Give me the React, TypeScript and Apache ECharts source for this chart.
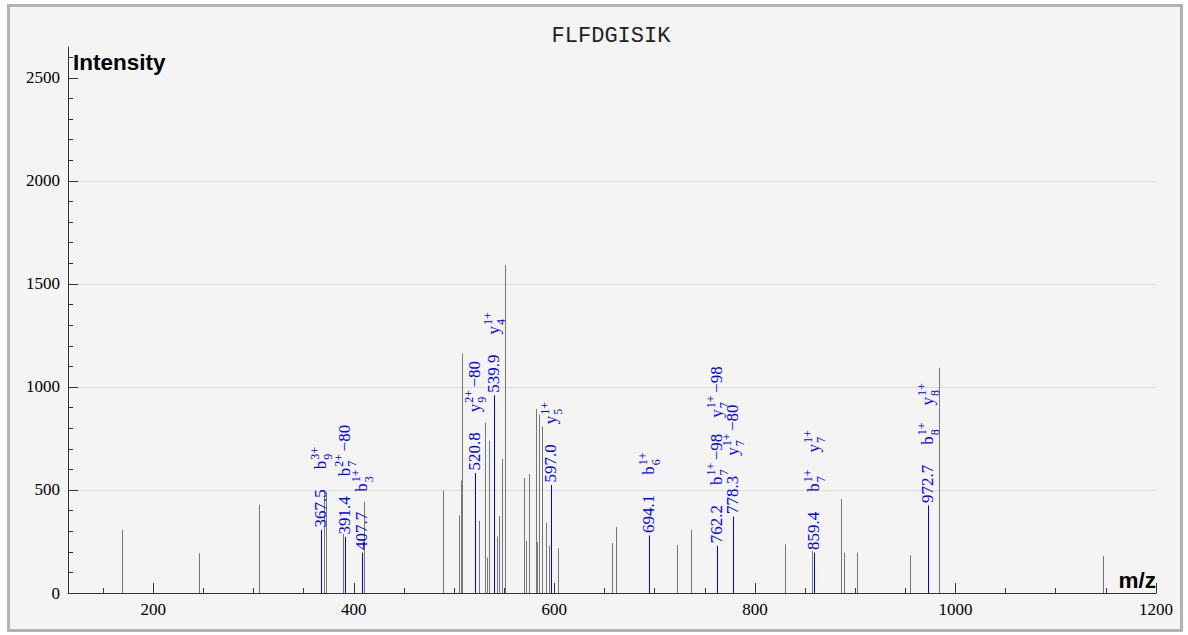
import React, { useEffect, useRef } from 'react';
import * as echarts from 'echarts';

const peptide = 'FLFDGISIK';
const xAxisName = 'm/z';
const yAxisName = 'Intensity';

const xMin = 115;
const xMax = 1200;
const yMin = 0;
const yMax = 2650;

const xMajorTicks = [200, 400, 600, 800, 1000, 1200];
const xMinorTicks = [150, 200, 250, 300, 350, 400, 450, 500, 550, 600, 650, 700, 750, 800, 850, 900, 950, 1000, 1050, 1100, 1150, 1200];
const yMajorTicks = [0, 500, 1000, 1500, 2000, 2500];
const yMinorTicks = [0, 100, 200, 300, 400, 500, 600, 700, 800, 900, 1000, 1100, 1200, 1300, 1400, 1500, 1600, 1700, 1800, 1900, 2000, 2100, 2200, 2300, 2400, 2500, 2600];

// unmatched peaks (grey)
const peakMz = [169.0, 246.0, 305.0, 370.2, 372.2, 389.0, 410.0, 489.0, 504.7, 506.7, 508.0, 525.3, 531.3, 533.3, 535.3, 543.0, 545.3, 548.3, 550.7, 569.6, 572.2, 574.9, 581.9, 583.2, 584.6, 587.5, 591.5, 594.5, 603.8, 657.8, 661.6, 722.4, 736.4, 830.4, 857.0, 885.6, 888.6, 902.0, 954.4, 984.0, 1147.0];
const peakIntensity = [306, 193, 428, 492, 488, 287, 443, 498, 376, 546, 1162, 350, 828, 172, 739, 274, 374, 652, 1592, 558, 253, 577, 893, 247, 866, 809, 342, 229, 217, 242, 320, 232, 306, 237, 205, 457, 196, 196, 183, 1093, 180];

// matched peaks (blue)
const matchedMz = [367.5, 391.4, 407.7, 520.8, 539.9, 597.0, 694.1, 762.2, 778.3, 859.4, 972.7];
const matchedIntensity = [306, 272, 196, 582, 960, 524, 279, 229, 371, 196, 425];
// [ion type, index, charge, neutral loss]
const matchedIons: string[][][] = [
  [['b', '9', '3+', '']],
  [['b', '7', '2+', '\u221280']],
  [['b', '3', '1+', '']],
  [['y', '9', '2+', '\u221280']],
  [['y', '4', '1+', '']],
  [['y', '5', '1+', '']],
  [['b', '6', '1+', '']],
  [['b', '7', '1+', '\u221298'], ['y', '7', '1+', '\u221298']],
  [['y', '7', '1+', '\u221280']],
  [['b', '7', '1+', ''], ['y', '7', '1+', '']],
  [['b', '8', '1+', ''], ['y', '8', '1+', '']],
];

const SERIF = '"Liberation Serif", "Times New Roman", serif';
const SANS = '"Liberation Sans", Arial, sans-serif';
const MONO = '"Liberation Mono", "Courier New", monospace';
const BLUE = '#0000ff';
const GREY = '#777777';
const AXIS = '#333333';

let measureCtx: CanvasRenderingContext2D | null = null;
function measure(text: string, size: number): number {
  if (!measureCtx) measureCtx = document.createElement('canvas').getContext('2d');
  if (!measureCtx) return text.length * size * 0.5;
  measureCtx.font = `${size}px ${SERIF}`;
  return measureCtx.measureText(text).width;
}

function txt(text: string, x: number, y: number, size: number) {
  return {
    type: 'text',
    x,
    y,
    silent: true,
    style: {
      text,
      font: `${size}px ${SERIF}`,
      fill: BLUE,
      align: 'left',
      verticalAlign: 'middle',
      textAlign: 'left',
      textVerticalAlign: 'middle',
    },
  };
}

const BASE_Y = -1.5;
const SUP_Y = -6.5;
const SUB_Y = 6;
const MAIN_SIZE = 17;
const SMALL_SIZE = 12;
const MZ_START = 2.5;
const MZ_GAP = 20;
const ION_GAP = 16;

function stickSeries(mz: number[], inten: number[], color: string, name: string) {
  return {
    type: 'custom',
    name,
    xAxisIndex: 0,
    yAxisIndex: 0,
    silent: true,
    data: mz.map((m, i) => [m, inten[i]]),
    renderItem: (_params: any, api: any) => {
      const x = api.value(0);
      const y = api.value(1);
      const p0 = api.coord([x, 0]);
      const p1 = api.coord([x, y]);
      const px = Math.round(p0[0]) + 0.5;
      return {
        type: 'line',
        shape: { x1: px, y1: p0[1], x2: px, y2: p1[1] },
        style: { stroke: color, lineWidth: 1 },
      };
    },
  };
}

const plainNumber = (v: number) => String(v);

export default function App() {
  const ref = useRef<HTMLDivElement>(null);

  useEffect(() => {
    if (!ref.current) return;
    const chart = echarts.init(ref.current, undefined, { renderer: 'svg' });

    const annotationSeries = {
      type: 'custom',
      name: 'labels',
      xAxisIndex: 0,
      yAxisIndex: 0,
      silent: true,
      z: 5,
      data: matchedMz.map((m, i) => [m, matchedIntensity[i], i]),
      renderItem: (_params: any, api: any) => {
        const mz = api.value(0);
        const idx = api.value(2);
        const p = api.coord([mz, api.value(1)]);
        const px = Math.round(p[0]) + 0.5;
        const children: any[] = [];
        let cursor = MZ_START;
        const mzText = mz.toFixed(1);
        children.push(txt(mzText, cursor, BASE_Y, MAIN_SIZE));
        cursor += measure(mzText, MAIN_SIZE) + MZ_GAP;
        const ions = matchedIons[idx] || [];
        for (const ion of ions) {
          const [kind, num, charge, loss] = ion;
          children.push(txt(kind, cursor, BASE_Y, MAIN_SIZE));
          cursor += measure(kind, MAIN_SIZE) + 1;
          children.push(txt(charge, cursor, SUP_Y, SMALL_SIZE));
          children.push(txt(num, cursor, SUB_Y, SMALL_SIZE));
          cursor += Math.max(measure(charge, SMALL_SIZE), measure(num, SMALL_SIZE)) + 1;
          if (loss) {
            cursor += 1.5;
            children.push(txt(loss, cursor, BASE_Y, MAIN_SIZE));
            cursor += measure(loss, MAIN_SIZE);
          }
          cursor = cursor + ION_GAP;
        }
        return {
          type: 'group',
          x: px,
          y: p[1],
          rotation: Math.PI / 2,
          children,
        };
      },
    };

    const option: any = {
      animation: false,
      backgroundColor: 'transparent',
      grid: { left: 58, top: 40, right: 24, bottom: 36, containLabel: false },
      xAxis: [
        {
          type: 'value',
          min: xMin,
          max: xMax,
          position: 'bottom',
          axisLine: { show: true, onZero: false, lineStyle: { color: AXIS, width: 1 } },
          axisTick: { show: true, inside: true, length: 10, customValues: xMajorTicks, lineStyle: { color: AXIS } },
          axisLabel: { show: true, customValues: xMajorTicks, formatter: plainNumber, fontFamily: SERIF, fontSize: 17, color: '#000', margin: 8 },
          splitLine: { show: false },
        },
        {
          type: 'value',
          min: xMin,
          max: xMax,
          position: 'bottom',
          offset: 0,
          axisLine: { show: false, onZero: false },
          axisTick: { show: true, inside: true, length: 5, customValues: xMinorTicks, lineStyle: { color: AXIS } },
          axisLabel: { show: false },
          splitLine: { show: false },
        },
      ],
      yAxis: [
        {
          type: 'value',
          min: yMin,
          max: yMax,
          interval: 500,
          position: 'left',
          axisLine: { show: true, onZero: false, lineStyle: { color: AXIS, width: 1 } },
          axisTick: { show: true, inside: true, length: 10, customValues: yMajorTicks, lineStyle: { color: AXIS } },
          axisLabel: { show: true, customValues: yMajorTicks, formatter: plainNumber, fontFamily: SERIF, fontSize: 17, color: '#000', margin: 8 },
          splitLine: { show: true, showMaxLine: false, lineStyle: { color: '#dcdcdc', width: 1 } },
        },
        {
          type: 'value',
          min: yMin,
          max: yMax,
          position: 'left',
          offset: 0,
          axisLine: { show: false, onZero: false },
          axisTick: { show: true, inside: true, length: 5, customValues: yMinorTicks, lineStyle: { color: AXIS } },
          axisLabel: { show: false },
          splitLine: { show: false },
        },
      ],
      graphic: [
        {
          type: 'text',
          x: 601,
          y: 29,
          silent: true,
          style: { text: peptide, font: `22px ${MONO}`, fill: '#222', align: 'center', verticalAlign: 'middle', textAlign: 'center', textVerticalAlign: 'middle' },
        },
        {
          type: 'text',
          x: 63,
          y: 55.5,
          silent: true,
          style: { text: yAxisName, font: `bold 22.5px ${SANS}`, fill: '#000', align: 'left', verticalAlign: 'middle', textAlign: 'left', textVerticalAlign: 'middle' },
        },
        {
          type: 'text',
          x: 1146,
          y: 573.5,
          silent: true,
          style: { text: xAxisName, font: `bold 22.5px ${SANS}`, fill: '#000', align: 'right', verticalAlign: 'middle', textAlign: 'right', textVerticalAlign: 'middle' },
        },
      ],
      series: [
        stickSeries(peakMz, peakIntensity, GREY, 'peaks'),
        stickSeries(matchedMz, matchedIntensity, BLUE, 'matched'),
        annotationSeries,
      ],
    };

    chart.setOption(option);
    return () => chart.dispose();
  }, []);

  return (
    <div
      style={{
        position: 'absolute',
        left: 7,
        top: 4,
        width: 1176,
        height: 628,
        boxSizing: 'border-box',
        border: '3px solid #b2b2b2',
        background: '#f4f4f4',
      }}
    >
      <div ref={ref} style={{ width: 1170, height: 622 }} />
    </div>
  );
}
